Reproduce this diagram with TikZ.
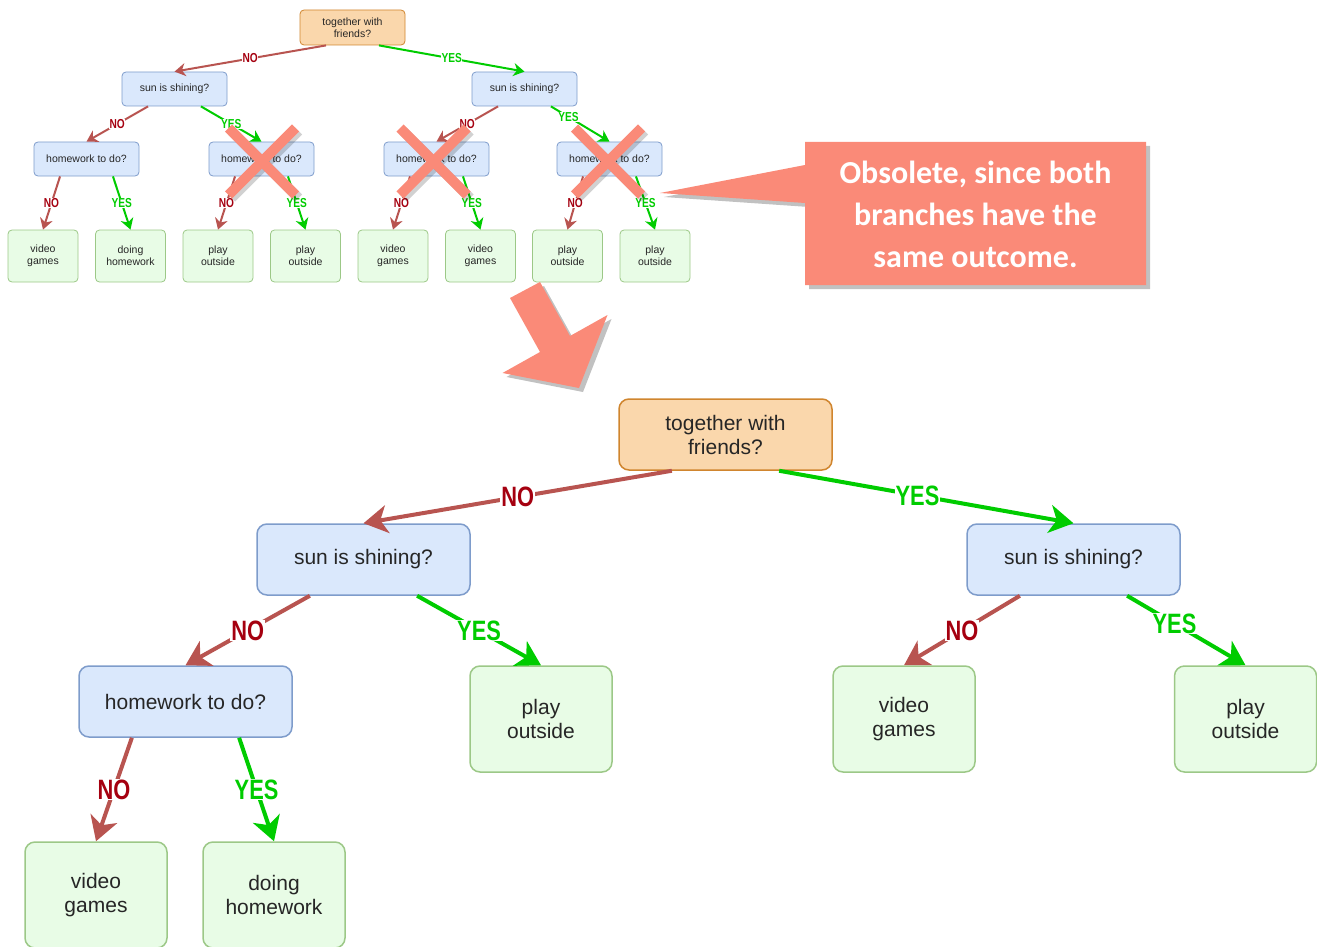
\documentclass[tikz,border=0pt]{standalone}
\usepackage{fontspec}
\usepackage{graphicx}
\setmainfont{Liberation Sans}
\newfontfamily\calibri{Carlito}
\usetikzlibrary{arrows.meta,calc,shadows}
\definecolor{orfill}{HTML}{FAD7AC}
\definecolor{ordraw}{HTML}{D0852E}
\definecolor{blfill}{HTML}{DAE8FC}
\definecolor{bldraw}{HTML}{7E9CCB}
\definecolor{grfill}{HTML}{E8FCE6}
\definecolor{grdraw}{HTML}{9CC887}
\definecolor{redline}{HTML}{B85450}
\definecolor{redtext}{HTML}{A50010}
\definecolor{greenline}{HTML}{00CC00}
\definecolor{salmon}{HTML}{FA8A78}
\tikzset{
  sbase/.style={draw, rounded corners=4pt, align=center, inner sep=0pt, line width=0.8pt,
    font=\fontsize{10.5}{12}\selectfont, text=black!85},
  sroot/.style={sbase, fill=orfill, draw=ordraw, minimum width=105pt, minimum height=35pt},
  sq/.style={sbase, fill=blfill, draw=bldraw, minimum width=105pt, minimum height=34pt},
  sleaf/.style={sbase, fill=grfill, draw=grdraw, minimum width=70pt, minimum height=52pt},
  bbase/.style={draw, rounded corners=10pt, align=center, inner sep=0pt, line width=1.5pt,
    font=\fontsize{21}{24}\selectfont, text=black!85},
  broot/.style={bbase, fill=orfill, draw=ordraw, minimum width=213pt, minimum height=71pt},
  bq/.style={bbase, fill=blfill, draw=bldraw, minimum width=213pt, minimum height=71pt},
  bleaf/.style={bbase, fill=grfill, draw=grdraw, minimum width=142pt, minimum height=106pt},
  sno/.style={draw=redline, line width=2pt, -{Stealth[length=11pt,width=13pt,inset=3.5pt]}},
  syes/.style={draw=greenline, line width=2pt, -{Stealth[length=11pt,width=13pt,inset=3.5pt]}},
  bno/.style={draw=redline, line width=4pt, -{Stealth[length=24pt,width=28pt,inset=7pt]}},
  byes/.style={draw=greenline, line width=4pt, -{Stealth[length=24pt,width=28pt,inset=7pt]}},
  slno/.style={fill=white, inner sep=0.5pt, text=redtext, font=\bfseries\fontsize{13}{13}\selectfont},
  slyes/.style={fill=white, inner sep=0.5pt, text=greenline, font=\bfseries\fontsize{13}{13}\selectfont},
  blno/.style={fill=white, inner sep=1pt, text=redtext, font=\bfseries\fontsize{28}{28}\selectfont},
  blyes/.style={fill=white, inner sep=1pt, text=greenline, font=\bfseries\fontsize{28}{28}\selectfont},
  xmark/.style={draw=salmon, line width=10pt},
  xshadow/.style={draw=black, opacity=0.18, line width=10pt},
}
\newcommand{\nar}[1]{\scalebox{0.78}[1]{#1}}
\begin{document}
\begin{tikzpicture}[x=1pt,y=-1pt]
\useasboundingbox (0,0) rectangle (1317,947);
% ---------- top tree ----------
\node[sroot] (t0) at (352.5,27.5) {together with\\friends?};
\node[sq] (tL) at (174.5,89) {sun is shining?};
\node[sq] (tR) at (524.5,89) {sun is shining?};
\node[sq] (th1) at (86.5,159) {homework to do?};
\node[sq] (th2) at (261.5,159) {homework to do?};
\node[sq] (th3) at (436.5,159) {homework to do?};
\node[sq] (th4) at (609.5,159) {homework to do?};
\node[sleaf] (tl1) at (43,256) {video\\games};
\node[sleaf] (tl2) at (130.5,256) {doing\\homework};
\node[sleaf] (tl3) at (218,256) {play\\outside};
\node[sleaf] (tl4) at (305.5,256) {play\\outside};
\node[sleaf] (tl5) at (393,256) {video\\games};
\node[sleaf] (tl6) at (480.5,256) {video\\games};
\node[sleaf] (tl7) at (567.5,256) {play\\outside};
\node[sleaf] (tl8) at (655,256) {play\\outside};

\draw[sno] ($(t0.south west)!.25!(t0.south east)$) -- node[slno]{\nar{NO}} (tL.north);
\draw[syes] ($(t0.south west)!.75!(t0.south east)$) -- node[slyes]{\nar{YES}} (tR.north);
\draw[sno] ($(tL.south west)!.25!(tL.south east)$) -- node[slno]{\nar{NO}} (th1.north);
\draw[syes] ($(tL.south west)!.75!(tL.south east)$) -- node[slyes]{\nar{YES}} (th2.north);
\draw[sno] ($(tR.south west)!.25!(tR.south east)$) -- node[slno]{\nar{NO}} (th3.north);
\draw[syes] ($(tR.south west)!.75!(tR.south east)$) -- node[slyes,pos=.3]{\nar{YES}} (th4.north);
\foreach \h/\a/\b in {th1/tl1/tl2, th2/tl3/tl4, th3/tl5/tl6, th4/tl7/tl8}{
  \draw[sno] ($(\h.south west)!.25!(\h.south east)$) -- node[slno]{\nar{NO}} (\a.north);
  \draw[syes] ($(\h.south west)!.75!(\h.south east)$) -- node[slyes]{\nar{YES}} (\b.north);
}
% crosses
\foreach \cx in {261.5,433,607.5}{
  \draw[xshadow] (\cx-30,131) -- (\cx+37,198);
  \draw[xshadow] (\cx+37,131) -- (\cx-30,198);
  \draw[xmark] (\cx-33,128) -- (\cx+34,195);
  \draw[xmark] (\cx+34,128) -- (\cx-33,195);
}
% ---------- callout ----------
\fill[salmon, drop shadow={shadow xshift=4pt, shadow yshift=-4pt, opacity=0.35, fill=black!70}]
  (805,142) -- (1146,142) -- (1146,285) -- (805,285) -- (805,203) -- (660,193) -- (805,165) -- cycle;
\node[align=center, text=white, font=\calibri\bfseries\fontsize{32}{42}\selectfont] (callout) at (975.5,214)
  {Obsolete, since both\\branches have the\\same outcome.};
% ---------- big arrow ----------
\fill[salmon, drop shadow={shadow xshift=4pt, shadow yshift=-4pt, opacity=0.35, fill=black!70}]
  (510,298) -- (540,282) -- (570,336) -- (607.5,315) -- (579,388) -- (502.5,373) -- (540,352) -- cycle;
% ---------- bottom tree ----------
\node[broot] (b0) at (725.5,434.5) {together with\\friends?};
\node[bq] (bL) at (363.5,559.5) {sun is shining?};
\node[bq] (bR) at (1073.5,559.5) {sun is shining?};
\node[bq] (bh) at (185.5,701.5) {homework to do?};
\node[bleaf] (bp1) at (541,719) {play\\outside};
\node[bleaf] (bv2) at (904,719) {video\\games};
\node[bleaf] (bp2) at (1245.5,719) {play\\outside};
\node[bleaf] (bv1) at (96,895) {video\\games};
\node[bleaf] (bd) at (274,895) {doing\\homework};

\draw[bno] ($(b0.south west)!.25!(b0.south east)$) -- node[blno]{\nar{NO}} (bL.north);
\draw[byes] ($(b0.south west)!.75!(b0.south east)$) -- node[blyes,pos=.47]{\nar{YES}} (bR.north);
\draw[bno] ($(bL.south west)!.25!(bL.south east)$) -- node[blno]{\nar{NO}} (bh.north);
\draw[byes] ($(bL.south west)!.75!(bL.south east)$) -- node[blyes]{\nar{YES}} (bp1.north);
\draw[bno] ($(bR.south west)!.25!(bR.south east)$) -- node[blno]{\nar{NO}} (bv2.north);
\draw[byes] ($(bR.south west)!.75!(bR.south east)$) -- node[blyes,pos=.4]{\nar{YES}} (bp2.north);
\draw[bno] ($(bh.south west)!.25!(bh.south east)$) -- node[blno]{\nar{NO}} (bv1.north);
\draw[byes] ($(bh.south west)!.75!(bh.south east)$) -- node[blyes]{\nar{YES}} (bd.north);
\end{tikzpicture}
\end{document}
